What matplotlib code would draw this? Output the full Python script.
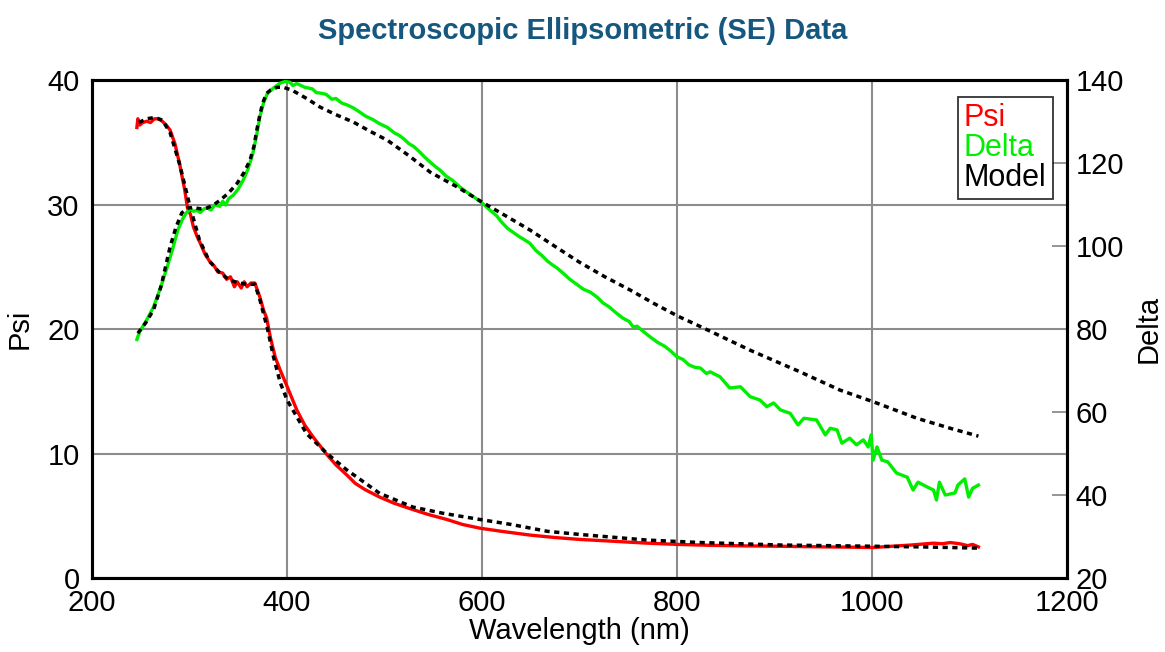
import matplotlib.pyplot as plt
import numpy as np

plt.rcParams['font.family'] = ['Liberation Sans', 'DejaVu Sans']

# measured Psi
psi_wl = [246, 247, 249, 252, 256, 260, 264, 268, 272, 276, 280, 285, 290, 295, 298, 301,
          304, 308, 311, 316, 321, 325, 329, 334, 338, 342, 346, 349, 353, 356, 359, 363,
          367, 372, 376, 379, 383, 388, 393, 400, 410, 418, 427, 434, 441, 450, 461, 470,
          480, 495, 510, 529, 545, 564, 580, 598, 620, 649, 675, 700, 735, 769, 800, 837,
          870, 906, 950, 975, 1001, 1020, 1040, 1063, 1072, 1080, 1090, 1098, 1103, 1109]
psi = [36.2, 36.9, 36.4, 36.6, 36.7, 36.6, 36.9, 36.9, 36.7, 36.4, 36.0, 34.9, 33.2, 31.2, 29.7, 29.2,
       28.2, 27.4, 26.9, 26.0, 25.4, 25.1, 24.6, 24.5, 24.0, 24.2, 23.4, 23.8, 23.3, 23.8, 23.4, 23.7,
       23.7, 22.6, 21.5, 20.9, 19.3, 17.7, 16.7, 15.4, 13.5, 12.3, 11.3, 10.6, 9.9, 9.1, 8.3, 7.6,
       7.1, 6.5, 6.0, 5.5, 5.1, 4.7, 4.3, 4.0, 3.75, 3.45, 3.25, 3.1, 2.95, 2.8, 2.7, 2.62,
       2.58, 2.55, 2.5, 2.48, 2.45, 2.55, 2.65, 2.8, 2.75, 2.85, 2.75, 2.6, 2.7, 2.5]

# measured Delta
delta_wl = [246, 249, 251, 257, 263, 270, 277, 283, 288, 293, 297, 301, 304, 308, 311, 315, 318, 322,
            326, 331, 334, 337, 340, 345, 350, 355, 360, 365, 369, 372, 376, 380, 386, 393, 398, 403,
            406, 410, 418, 426, 430, 434, 440, 446, 450, 456, 462, 468, 474, 480, 488, 495, 503, 510,
            515, 520, 525, 530, 536, 541, 547, 553, 557, 563, 570, 577, 585, 592, 600, 608, 615, 620,
            626, 632, 638, 643, 649, 655, 661, 667, 672, 677, 683, 690, 697, 704, 711, 718, 724, 730,
            737, 744, 751, 755, 759, 766, 773, 780, 787, 793, 800, 806, 812, 818, 824, 830, 834, 844,
            854, 865, 875, 885, 892, 899, 906, 916, 924, 930, 943, 952, 957, 964, 969, 977, 984, 991,
            996, 999, 1001, 1005, 1010, 1016, 1025, 1036, 1042, 1047, 1056, 1063, 1066, 1069, 1075,
            1085, 1088, 1095, 1099, 1103, 1109]
delta = [77.5, 79.5, 80.2, 82.6, 85.3, 89.8, 94.9, 99.6, 103.9, 106.6, 108.1, 108.9, 108.4, 108.6, 108.1,
         109.0, 109.2, 108.7, 110.0, 109.6, 110.8, 109.9, 111.4, 112.3, 113.8, 115.9, 118.6, 122.4, 127.0,
         131.1, 134.6, 136.9, 138.1, 139.3, 139.7, 139.5, 138.7, 139.2, 138.3, 137.9, 137.0, 136.9, 136.6,
         135.4, 135.6, 134.5, 134.0, 133.3, 132.4, 131.4, 130.5, 129.5, 128.6, 127.3, 126.7, 125.8, 124.7,
         124.0, 122.7, 121.5, 120.2, 119.0, 118.3, 116.9, 115.8, 114.3, 112.9, 111.8, 110.4, 108.7, 107.3,
         105.8, 104.3, 103.3, 102.3, 101.6, 100.7, 99.0, 97.8, 96.4, 95.5, 94.7, 93.5, 92.0, 90.8, 89.6,
         88.9, 87.7, 86.3, 85.4, 84.0, 82.7, 81.8, 80.5, 80.7, 79.3, 78.0, 76.8, 75.9, 74.8, 73.3, 72.7,
         71.4, 70.8, 70.6, 69.3, 69.7, 68.5, 65.8, 66.1, 63.7, 62.9, 61.3, 62.2, 60.5, 59.7, 56.9, 58.5,
         58.1, 54.5, 56.1, 55.7, 52.5, 53.7, 52.1, 53.3, 51.6, 54.5, 48.4, 51.6, 48.4, 48.0, 45.3, 44.3,
         41.2, 43.1, 42.0, 41.2, 38.8, 43.1, 40.0, 40.5, 42.4, 43.9, 39.5, 41.6, 42.4]

# model curves
mpsi_wl = [248, 256, 264, 272, 280, 290, 300, 310, 320, 330, 340, 350, 360, 367, 372, 380, 386, 393,
           400, 420, 441, 461, 495, 529, 560, 598, 630, 667, 700, 769, 824, 906, 1001, 1050, 1109]
mpsi = [36.6, 36.9, 37.0, 36.8, 35.8, 33.2, 30.0, 27.2, 25.5, 24.6, 24.0, 23.7, 23.6, 23.6, 22.4, 20.0,
        17.8, 15.7, 14.3, 11.6, 10.0, 8.7, 6.8, 5.7, 5.2, 4.7, 4.3, 3.75, 3.5, 3.05, 2.85, 2.65, 2.55,
        2.5, 2.4]
mdelta_wl = [247, 255, 263, 271, 280, 286, 292, 298, 304, 311, 318, 325, 331, 340, 349, 356, 362, 366,
             369, 372, 375, 379, 383, 390, 396, 405, 420, 434, 450, 468, 485, 503, 525, 547, 575, 600,
             625, 649, 675, 700, 726, 752, 776, 801, 824, 875, 926, 967, 1001, 1046, 1080, 1109]
mdelta = [79.0, 81.5, 84.6, 90.5, 99.8, 104.5, 108.0, 109.2, 109.3, 109.0, 109.2, 110.0, 111.0, 112.8,
          115.2, 117.8, 120.7, 124.0, 128.0, 131.5, 134.5, 136.8, 137.6, 138.3, 138.3, 137.6, 135.6,
          133.5, 131.7, 129.9, 127.7, 125.5, 121.8, 117.8, 114.2, 110.6, 107.2, 103.9, 99.9, 96.1, 92.6,
          89.4, 86.2, 83.1, 80.6, 74.9, 69.7, 65.3, 62.5, 58.5, 56.1, 54.2]

fig = plt.figure(figsize=(11.65, 6.52), dpi=100)
ax = fig.add_axes([0.079, 0.1135, 0.837, 0.7635])
ax2 = ax.twinx()

gray = '#8c8c8c'
dots = (0, (1.5, 1.3))

ax.plot(psi_wl, psi, color='#ff0000', lw=2.4, zorder=3)
ax.plot(mpsi_wl, mpsi, color='black', lw=2.5, ls=dots, zorder=4)
ax2.plot(delta_wl, delta, color='#00ee00', lw=2.4, zorder=3)
ax2.plot(mdelta_wl, mdelta, color='black', lw=2.5, ls=dots, zorder=4)

ax.set_xlim(200, 1200)
ax.set_ylim(0, 40)
ax2.set_ylim(20, 140)
ax.set_xticks(np.arange(200, 1201, 200))
ax.set_yticks(np.arange(0, 41, 10))
ax2.set_yticks(np.arange(20, 141, 20))

ax.grid(True, color=gray, lw=1.5)
ax.tick_params(axis='both', direction='in', length=0, labelsize=21, pad=8)
ax.tick_params(axis='y', pad=9)
ax2.tick_params(axis='y', direction='in', length=11, width=1.3, color=gray, labelsize=21, pad=6)

for a in (ax, ax2):
    for s in a.spines.values():
        s.set_linewidth(2.2)
        s.set_color('black')

ax.set_xlabel('Wavelength (nm)', fontsize=21, labelpad=0)
ax.set_ylabel('Psi', fontsize=21, labelpad=10)
ax2.set_ylabel('Delta', fontsize=21, labelpad=8)

fig.text(0.5, 0.952, 'Spectroscopic Ellipsometric (SE) Data', ha='center', va='center',
         fontsize=21, fontweight='bold', color='#15577f',
         family=['Liberation Sans Narrow', 'Liberation Sans', 'DejaVu Sans'])

leg_labels = ['Psi', 'Delta', 'Model']
leg_colors = ['#ff0000', '#00ee00', 'black']
handles = [plt.Line2D([], [], color=c, lw=0) for c in leg_colors]
leg = ax2.legend(handles, leg_labels, loc='upper right', bbox_to_anchor=(0.985, 0.966),
                 handlelength=0, handletextpad=0, fontsize=22, labelspacing=0.0,
                 frameon=True, fancybox=False, edgecolor='black', borderpad=0.2,
                 borderaxespad=0)
leg.get_frame().set_linewidth(1.3)
for t, c in zip(leg.get_texts(), leg_colors):
    t.set_color(c)

fig.savefig('out.png', dpi=100)
